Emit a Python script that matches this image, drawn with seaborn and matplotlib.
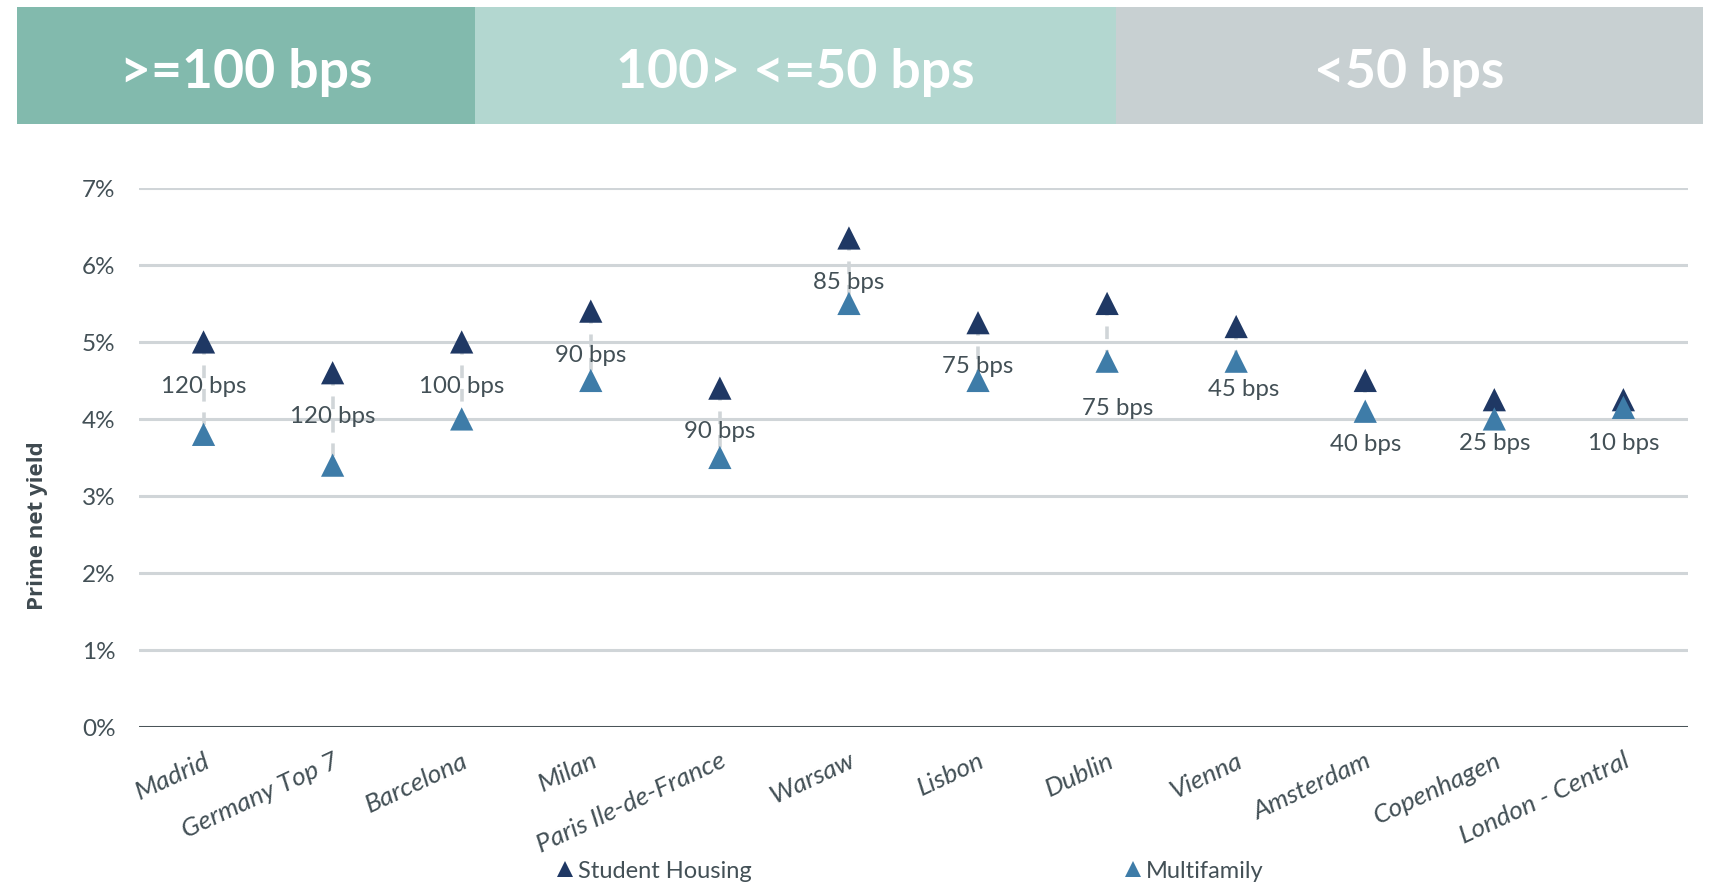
import matplotlib
matplotlib.use("Agg")
import matplotlib.pyplot as plt
import numpy as np
import pandas as pd
import seaborn as sns
from matplotlib.patches import Rectangle
from matplotlib.lines import Line2D

# ---- data -------------------------------------------------------------
cities = ["Madrid", "Germany Top 7", "Barcelona", "Milan", "Paris Ile-de-France",
          "Warsaw", "Lisbon", "Dublin", "Vienna", "Amsterdam", "Copenhagen",
          "London - Central"]
student_housing = [5.00, 4.60, 5.00, 5.40, 4.40, 6.35, 5.25, 5.50, 5.20, 4.50, 4.25, 4.25]
multifamily = [3.80, 3.40, 4.00, 4.50, 3.50, 5.50, 4.50, 4.75, 4.75, 4.10, 4.00, 4.15]
band_labels = [">=100 bps", "100> <=50 bps", "<50 bps"]
ytick_values = [0, 1, 2, 3, 4, 5, 6, 7]
series_names = ["Student Housing", "Multifamily"]

# ---- layout / style ---------------------------------------------------
# vertical placement of the spread labels (in yield units) and small x nudges
label_pos = [4.44, 4.05, 4.44, 4.84, 3.85, 5.79, 4.70, 4.15, 4.39, 3.68, 3.70, 3.70]
label_dx = [0, 0, 0, 0, 0, 0, 0, 0.08, 0.06, 0, 0, 0]
band_edges = [0.0102, 0.2774, 0.6511, 0.9936]
band_colors = ["#82BAAD", "#B3D7D0", "#C8D0D2"]
c_sh = "#1F3864"
c_mf = "#3E7CA8"
c_text = "#435056"
c_grid = "#D0D5D8"

sns.set_theme(style="white")
plt.rcParams["font.family"] = ["Lato", "DejaVu Sans"]

fig = plt.figure(figsize=(17.14, 8.87), dpi=100)

# ---- header bands -----------------------------------------------------
hax = fig.add_axes([0, 0.8595, 1, 0.1318])
hax.set_xlim(0, 1)
hax.set_ylim(0, 1)
hax.axis("off")
for i, lab in enumerate(band_labels):
    x0, x1 = band_edges[i], band_edges[i + 1]
    hax.add_patch(Rectangle((x0, 0), x1 - x0, 1, facecolor=band_colors[i],
                            edgecolor="none"))
    hax.text((x0 + x1) / 2, 0.45, lab, ha="center", va="center", color="white",
             fontsize=38.5, fontweight="bold")

# ---- main chart -------------------------------------------------------
ax = fig.add_axes([0.0811, 0.1793, 0.9037, 0.6077])

df = pd.DataFrame({
    "city": cities * 2,
    "yield": student_housing + multifamily,
    "type": [series_names[0]] * len(cities) + [series_names[1]] * len(cities),
})
xpos = np.arange(len(cities))

# dashed connectors between the two yields
for i in xpos:
    ax.plot([i, i], [student_housing[i], multifamily[i]], color=c_grid,
            lw=2.6, ls=(0, (3.5, 3)), zorder=2, solid_capstyle="butt")

sns.scatterplot(data=df, x="city", y="yield", hue="type", style="type",
                markers={series_names[0]: "^", series_names[1]: "^"},
                palette={series_names[0]: c_sh, series_names[1]: c_mf},
                s=280, linewidth=0, ax=ax, zorder=4, legend=False)

# spread labels
for i in xpos:
    bps = int(round((student_housing[i] - multifamily[i]) * 100))
    ax.text(i + label_dx[i], label_pos[i], f"{bps} bps", ha="center", va="center",
            fontsize=17.3, color=c_text, zorder=3)

ax.set_xlim(-0.5, len(cities) - 0.5)
ax.set_ylim(0, 7)
ax.set_yticks(ytick_values)
ax.set_yticklabels([f"{v}%" for v in ytick_values])
for v in ytick_values[1:]:
    ax.axhline(v, color=c_grid, lw=2.2, zorder=1)
ax.axhline(0, color="#4A5459", lw=2.2, zorder=1)

for s in ax.spines.values():
    s.set_visible(False)
ax.set_xlabel("")
ax.set_ylabel("")
ax.tick_params(axis="y", length=0, pad=17, labelsize=17.5, labelcolor=c_text)
ax.tick_params(axis="x", length=0, pad=15, labelsize=19, labelcolor=c_text)
ax.set_xticks(xpos)
ax.set_xticklabels(cities, rotation=25, ha="right", rotation_mode="anchor",
                   style="italic")

fig.text(0.022, 0.407, "Prime net yield", rotation=90, ha="center", va="center",
         fontsize=16, fontweight="bold", color="#3F4A50", family="Open Sans")

# ---- legend -----------------------------------------------------------
handles = [Line2D([], [], ls="none", marker="^", ms=12, color=c_sh, mew=0),
           Line2D([], [], ls="none", marker="^", ms=12, color=c_mf, mew=0)]
fig.legend(handles, series_names, loc="center", bbox_to_anchor=(0.531, 0.017),
           ncol=2, frameon=False, fontsize=17, labelcolor=c_text,
           handlelength=0.7, handletextpad=0.2, columnspacing=15.8)

fig.savefig("out.png", dpi=100)
